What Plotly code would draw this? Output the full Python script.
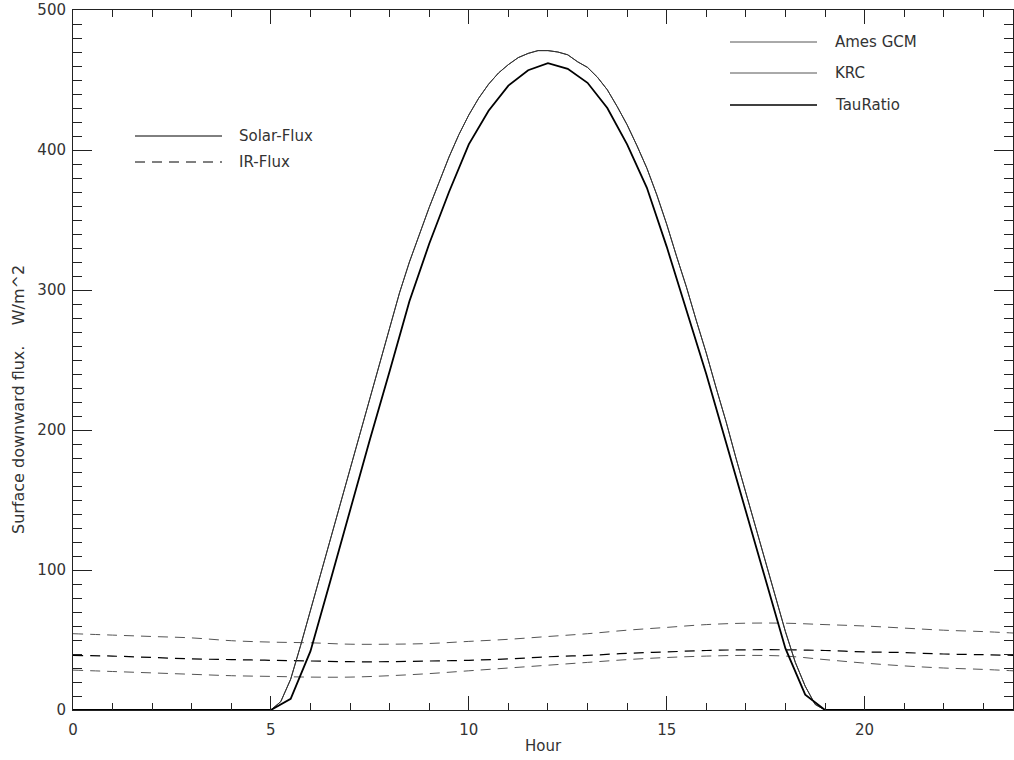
import plotly.graph_objects as go

# ---------------- data ----------------
# Solar flux, thin curves (Ames GCM and KRC overlap), 0.25 h resolution during daytime
thin_hours = [0.0, 5.0, 5.25, 5.5, 5.75, 6.0, 6.25, 6.5, 6.75, 7.0, 7.25, 7.5, 7.75,
              8.0, 8.25, 8.5, 8.75, 9.0, 9.25, 9.5, 9.75, 10.0, 10.25, 10.5, 10.75,
              11.0, 11.25, 11.5, 11.75, 12.0, 12.25, 12.5, 12.75, 13.0, 13.25, 13.5,
              13.75, 14.0, 14.25, 14.5, 14.75, 15.0, 15.25, 15.5, 15.75, 16.0, 16.25,
              16.5, 16.75, 17.0, 17.25, 17.5, 17.75, 18.0, 18.25, 18.5, 18.75, 19.0, 23.75]
ames_solar = [0, 0, 6, 22, 46, 71, 96, 121, 147, 172, 198, 223, 247,
              273, 298, 320, 340, 359, 377, 395, 411, 425, 437, 447, 455,
              461, 466, 469, 471, 471, 470, 468, 463, 459, 452, 443,
              431, 418, 403, 387, 368, 347, 324, 302, 278, 255, 230,
              206, 180, 155, 130, 105, 80, 56, 34, 17, 4, 0, 0]
krc_solar = [0, 0, 6, 22, 46, 71, 96, 121, 147, 172, 198, 223, 247,
             273, 298, 320, 340, 359, 377, 395, 411, 425, 437, 447, 455,
             461, 466, 469, 471, 471, 470, 468, 463, 459, 452, 443,
             431, 418, 403, 387, 368, 347, 324, 302, 278, 255, 230,
             206, 180, 155, 130, 105, 80, 56, 34, 17, 4, 0, 0]

# Solar flux, TauRatio (thick), 0.5 h resolution
tau_hours = [0.0, 5.0, 5.5, 6.0, 6.5, 7.0, 7.5, 8.0, 8.5, 9.0, 9.5, 10.0, 10.5,
             11.0, 11.5, 12.0, 12.5, 13.0, 13.5, 14.0, 14.5, 15.0, 15.5, 16.0,
             16.5, 17.0, 17.5, 18.0, 18.5, 19.0, 23.75]
tau_solar = [0, 0, 8, 42, 92, 143, 193, 242, 292, 333, 370, 404, 428,
             446, 457, 462, 458, 448, 430, 404, 373, 331, 286, 240,
             191, 142, 92, 44, 11, 0, 0]

# IR flux (dashed), hourly
ir_hours = [0, 1, 2, 3, 4, 5, 6, 7, 8, 9, 10, 11, 12, 13, 14, 15, 16, 17, 18,
            19, 20, 21, 22, 23, 23.75]
ames_ir = [54.5, 53.5, 52.5, 51.5, 49.5, 48.5, 48, 47, 47, 47.5, 49, 50.5, 52.5,
           54.5, 57, 59, 61, 62, 62, 61, 60, 58.5, 57, 56, 55]
tau_ir = [39, 38.5, 37.5, 36.5, 36, 35.5, 35, 34.5, 34.5, 35, 35.5, 36.5, 38,
          39, 40.5, 41.5, 42.5, 43, 43, 42.5, 41.5, 41, 40, 39.5, 39]
krc_ir = [28.5, 27.5, 26.5, 25.5, 24.5, 24, 23.5, 23.5, 24.5, 26, 28, 30, 32,
          34, 36, 37.5, 38.5, 39, 38.5, 36, 33.5, 31.5, 30, 29, 28]

model_names = ["Ames GCM", "KRC", "TauRatio"]
flux_names = ["Solar-Flux", "IR-Flux"]
x_ticks = [0, 5, 10, 15, 20]
y_ticks = [0, 100, 200, 300, 400, 500]

# ---------------- figure ----------------
THIN = "#333333"
BLACK = "#000000"
DASH = "10px,7px"
FONT = "DejaVu Sans ExtraLight, DejaVu Sans"
TXT = "#333333"
FS = 15

fig = go.Figure()
fig.add_trace(go.Scatter(x=ir_hours, y=ames_ir, mode="lines", line_shape="spline",
                         line=dict(color="#555555", width=1, dash=DASH), name="Ames GCM IR"))
fig.add_trace(go.Scatter(x=ir_hours, y=krc_ir, mode="lines", line_shape="spline",
                         line=dict(color="#555555", width=1, dash=DASH), name="KRC IR"))
fig.add_trace(go.Scatter(x=ir_hours, y=tau_ir, mode="lines", line_shape="spline",
                         line=dict(color=BLACK, width=1.2, dash=DASH), name="TauRatio IR"))
fig.add_trace(go.Scatter(x=thin_hours, y=ames_solar, mode="lines",
                         line=dict(color=THIN, width=1), name="Ames GCM Solar"))
fig.add_trace(go.Scatter(x=thin_hours, y=krc_solar, mode="lines",
                         line=dict(color=THIN, width=1), name="KRC Solar"))
fig.add_trace(go.Scatter(x=tau_hours, y=tau_solar, mode="lines",
                         line=dict(color=BLACK, width=1.8), name="TauRatio Solar"))

L, R, T, B = 73, 1013, 10, 710
W, H = R - L, B - T


def px(xp):
    return (xp - L) / W


def py(yp):
    return (B - yp) / H


shapes = []
annotations = []
# legend 1 (models)
leg1_y = [42, 73, 105]
leg1_col = ["#555555", "#555555", BLACK]
leg1_w = [1, 1, 1.6]
for name, yp, c, w in zip(model_names, leg1_y, leg1_col, leg1_w):
    shapes.append(dict(type="line", xref="paper", yref="paper", x0=px(730), x1=px(817),
                       y0=py(yp), y1=py(yp), line=dict(color=c, width=w)))
    annotations.append(dict(xref="paper", yref="paper", x=px(833), y=py(yp), text=name,
                            showarrow=False, xanchor="left", yanchor="middle",
                            font=dict(family=FONT, size=FS, color=TXT)))
# legend 2 (flux types)
leg2_y = [136, 162]
leg2_dash = ["solid", DASH]
for name, yp, d in zip(flux_names, leg2_y, leg2_dash):
    shapes.append(dict(type="line", xref="paper", yref="paper", x0=px(135), x1=px(222),
                       y0=py(yp), y1=py(yp), line=dict(color=BLACK, width=1, dash=d)))
    annotations.append(dict(xref="paper", yref="paper", x=px(237), y=py(yp), text=name,
                            showarrow=False, xanchor="left", yanchor="middle",
                            font=dict(family=FONT, size=FS, color=TXT)))
# axis titles
annotations.append(dict(xref="paper", yref="paper", x=px(18), y=py(400),
                        text="Surface downward flux.\u00a0\u00a0\u00a0\u00a0W/m^2",
                        textangle=-90, showarrow=False, xanchor="center", yanchor="middle",
                        font=dict(family=FONT, size=16, color=TXT)))
annotations.append(dict(xref="paper", yref="paper", x=px(543), y=py(746), text="Hour",
                        showarrow=False, xanchor="center", yanchor="middle",
                        font=dict(family=FONT, size=FS, color=TXT)))

axis_common = dict(showgrid=False, zeroline=False, showline=True, linecolor="#222",
                   linewidth=1, mirror="ticks", ticks="inside", tickcolor="#222",
                   tickwidth=1, tickfont=dict(family=FONT, size=FS, color=TXT))

fig.update_layout(
    width=1014, height=760,
    margin=dict(l=L, r=1014 - R, t=T, b=760 - B, pad=0),
    plot_bgcolor="white", paper_bgcolor="white",
    showlegend=False,
    shapes=shapes, annotations=annotations,
    xaxis=dict(range=[0, 23.75], tickmode="array", tickvals=x_ticks,
               ticktext=[str(v) for v in x_ticks], ticklen=14, ticklabelstandoff=6,
               minor=dict(dtick=1, ticklen=7, ticks="inside", tickcolor="#222", showgrid=False),
               **axis_common),
    yaxis=dict(range=[0, 500], tickmode="array", tickvals=y_ticks,
               ticktext=[str(v) for v in y_ticks], ticklen=19, ticklabelstandoff=3,
               minor=dict(dtick=10, ticklen=9, ticks="inside", tickcolor="#222", showgrid=False),
               **axis_common),
)

fig.write_html(
    "out.html",
    config={"displayModeBar": False},
    post_script="document.body.style.margin='0';document.body.style.padding='0';"
                "document.documentElement.style.overflow='hidden';",
)
